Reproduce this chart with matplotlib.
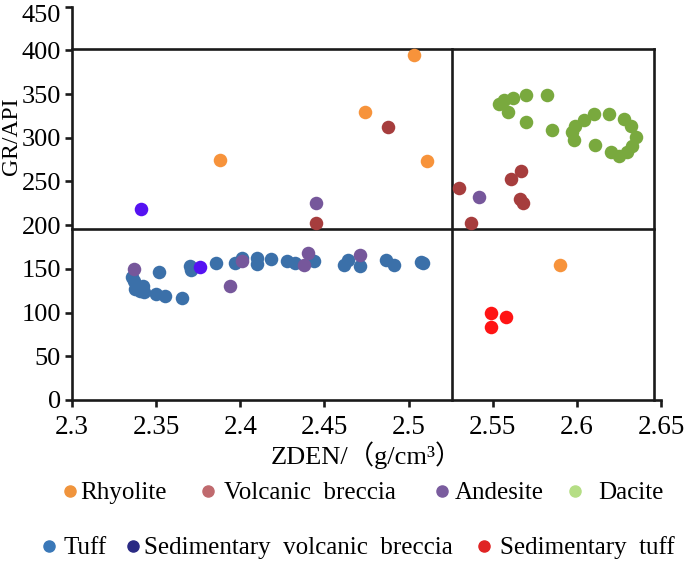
import matplotlib
matplotlib.use("Agg")
import matplotlib.pyplot as plt
import matplotlib.transforms as mtransforms
from matplotlib.lines import Line2D

plt.rcParams['font.family'] = ['Liberation Serif', 'Noto Sans CJK SC', 'DejaVu Sans']

# GR vs ZDEN cross-plot
rhyolite_x = [2.388, 2.474, 2.503, 2.511, 2.590]
rhyolite_y = [275, 330, 395, 273, 155]

breccia_x = [2.488, 2.445, 2.530, 2.537, 2.561, 2.567, 2.566, 2.568]
breccia_y = [312, 202, 243, 203, 253, 262, 230, 225]

andesite_x = [2.445, 2.542, 2.337, 2.394, 2.401, 2.438, 2.440, 2.471]
andesite_y = [225, 232, 150, 130, 159, 155, 168, 166]

dacite_x = [2.554, 2.5565, 2.562, 2.559, 2.570, 2.582, 2.570, 2.585, 2.599, 2.604, 2.610,
            2.619, 2.628, 2.632, 2.635, 2.633, 2.630, 2.625, 2.620, 2.611, 2.598, 2.597]
dacite_y = [339, 343, 345, 329, 349, 349, 318, 309, 313, 320, 327,
            327, 321, 313, 301, 291, 284, 279, 284, 292, 298, 307]

tuff_x = [2.3357, 2.3367, 2.3377, 2.3407, 2.342, 2.3427, 2.3515, 2.350, 2.355, 2.3653,
          2.3703, 2.371, 2.3857, 2.397, 2.401, 2.410, 2.410, 2.418, 2.428, 2.4325,
          2.444, 2.4617, 2.464, 2.4714, 2.4868, 2.4912, 2.5072, 2.5085]
tuff_y = [141, 136, 127, 125, 130, 123, 146, 121, 119, 117,
          153, 149, 157, 157, 163, 162, 156, 161, 159, 157,
          159, 155, 160, 153, 160, 155, 158, 157]

sed_breccia_x = [2.341, 2.376]
sed_breccia_y = [218, 152]

sed_tuff_x = [2.549, 2.549, 2.558]
sed_tuff_y = [99, 84, 95]

x_ticks = [2.3, 2.35, 2.4, 2.45, 2.5, 2.55, 2.6, 2.65]
x_tick_labels = ['2.3', '2.35', '2.4', '2.45', '2.5', '2.55', '2.6', '2.65']
y_ticks = [0, 50, 100, 150, 200, 250, 300, 350, 400, 450]

fig = plt.figure(figsize=(6.85, 5.62), dpi=100)
ax = fig.add_axes([0.1051, 0.2883, 0.8599, 0.6998])

pt = 95
ax.scatter(tuff_x, tuff_y, s=pt, color='#3b70a9', linewidths=0, zorder=3)
ax.scatter(rhyolite_x, rhyolite_y, s=pt, color='#f7933b', linewidths=0, zorder=4)
ax.scatter(breccia_x, breccia_y, s=pt, color='#a63d3d', linewidths=0, zorder=4)
ax.scatter(andesite_x, andesite_y, s=pt, color='#76579b', linewidths=0, zorder=4)
ax.scatter(dacite_x, dacite_y, s=pt, color='#79a93e', linewidths=0, zorder=4)
ax.scatter(sed_breccia_x, sed_breccia_y, s=pt, color='#5512f2', linewidths=0, zorder=4)
ax.scatter(sed_tuff_x, sed_tuff_y, s=pt, color='#ff1414', linewidths=0, zorder=4)

# zone lines
lw = 1.9
ax.plot([2.3, 2.646], [402, 402], color='#1a1a1a', lw=lw, zorder=2, clip_on=False)
ax.plot([2.646, 2.646], [0, 402], color='#1a1a1a', lw=lw, zorder=2, clip_on=False)
ax.plot([2.3, 2.646], [196, 196], color='#1a1a1a', lw=lw, zorder=2, clip_on=False)
ax.plot([2.526, 2.526], [0, 402], color='#1a1a1a', lw=lw, zorder=2, clip_on=False)

ax.set_xlim(2.3, 2.65)
ax.set_ylim(0, 450)
ax.set_xticks(x_ticks)
ax.set_xticklabels(x_tick_labels)
ax.set_yticks(y_ticks)

for side in ['top', 'right']:
    ax.spines[side].set_visible(False)
for side in ['left', 'bottom']:
    ax.spines[side].set_linewidth(lw)
    ax.spines[side].set_color('#1a1a1a')
ax.tick_params(direction='out', length=5, width=lw, color='#1a1a1a')
ax.tick_params(axis='y', labelsize=19, pad=3)
ax.tick_params(axis='x', labelsize=19.5, pad=6)

# the top label sits a bit lower in the original
top_label = ax.get_yticklabels()[-1]
top_label.set_transform(top_label.get_transform() +
                        mtransforms.ScaledTranslation(0, -0.07, fig.dpi_scale_trans))

ax.set_xlabel('ZDEN/（g/cm³）', fontsize=19, labelpad=1)
ax.set_ylabel('GR/API', fontsize=17)
ax.yaxis.set_label_coords(-0.085, 0.67)

# legend, two rows laid out like the original
legend_rows = [
    [('Rhyolite', '#f0943c', 70, 80), ('Volcanic  breccia', '#c06a6e', 208, 224),
     ('Andesite', '#7a5c9e', 442, 455), ('Dacite', '#b5de85', 575, 598)],
    [('Tuff', '#3a78b8', 49, 64), ('Sedimentary  volcanic  breccia', '#2a2a84', 133, 144),
     ('Sedimentary  tuff', '#e02424', 484, 500)],
]
row_y = [493, 548]
for row, py in zip(legend_rows, row_y):
    yf = 1 - py / 562
    for label, color, mx, tx in row:
        fig.add_artist(Line2D([mx / 685], [yf + 0.004], marker='o', markersize=8,
                              color=color, linestyle='none', transform=fig.transFigure))
        fig.text(tx / 685, yf, label, fontsize=18, va='center', ha='left')

fig.savefig('out.png', dpi=100)
